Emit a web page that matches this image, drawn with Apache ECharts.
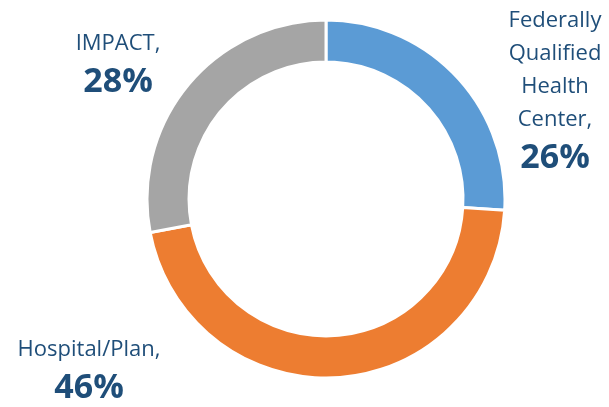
<!DOCTYPE html>
<html>
<head>
<meta charset="utf-8">
<script src="https://cdn.jsdelivr.net/npm/echarts@6/dist/echarts.min.js"></script>
<style>
  html, body { margin: 0; padding: 0; background: #fff; }
  #chart { width: 609px; height: 407px; }
</style>
</head>
<body>
<div id="chart"></div>
<script>
// slices, clockwise from 12 o'clock
const categories = ['Federally\nQualified\nHealth\nCenter,', 'Hospital/Plan,', 'IMPACT,'];
const shares = [26, 46, 28];
const colors = ['#5B9BD5', '#ED7D31', '#A5A5A5'];

// where each label block sits (centre of block)
const labelSpots = [[555, 92], [89, 372], [118, 66]];

let myChart = echarts.init(document.getElementById('chart'));
let option = {
  animation: false,
  series: [{
    type: 'pie',
    center: [326, 199],
    radius: [137, 179],
    startAngle: 90,
    clockwise: true,
    label: {
      show: true,
      position: 'outside',
      formatter: p => '{n|' + p.name.split('\n').join('}\n{n|') + '}\n{v|' + p.value + '%}',
      rich: {
        n: { fontFamily: 'Open Sans', fontSize: 22, color: '#1F4E79', lineHeight: 33, align: 'center' },
        v: { fontFamily: 'Open Sans', fontSize: 34, fontWeight: 'bold', color: '#1F4E79', lineHeight: 44, align: 'center' }
      }
    },
    labelLine: { show: false },
    labelLayout: params => ({
      x: labelSpots[params.dataIndex][0],
      y: labelSpots[params.dataIndex][1],
      align: 'center',
      verticalAlign: 'middle'
    }),
    itemStyle: { borderColor: '#fff', borderWidth: 3 },
    emphasis: { disabled: true },
    data: categories.map((c, i) => ({ name: c, value: shares[i], itemStyle: { color: colors[i] } }))
  }]
};
myChart.setOption(option);
</script>
</body>
</html>
